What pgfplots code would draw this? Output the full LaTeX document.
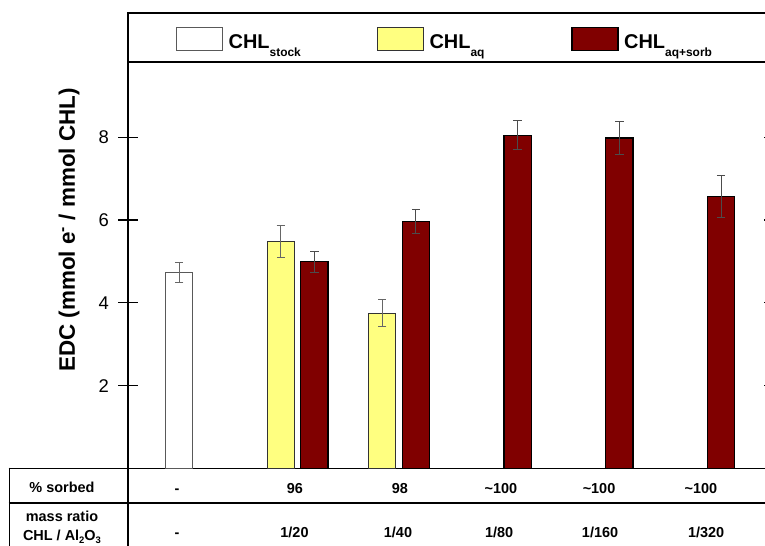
\documentclass[border=0pt]{standalone}
\usepackage{fontspec}
\setmainfont{Liberation Sans}
\usepackage{pgfplots}
\pgfplotsset{compat=1.18}
\definecolor{chlred}{RGB}{128,0,0}
\definecolor{chlyel}{RGB}{255,255,128}
\newcommand\lsub[1]{\raisebox{-7.5bp}{\fontsize{12}{12}\selectfont #1}}
\newcommand\tsub[1]{\raisebox{-3.5bp}{\fontsize{9.5}{9.5}\selectfont #1}}
\begin{document}
\begin{tikzpicture}
\useasboundingbox (0,0) rectangle (765bp,546bp);
\begin{axis}[
  at={(128bp,77.5bp)}, anchor=south west,
  scale only axis, width=645bp, height=455.5bp,
  xmin=0.1677, xmax=6.511, ymin=0, ymax=11,
  ybar, bar width=27.3bp,
  axis line style={line width=1.8bp},
  ytick={2,4,6,8},
  tick align=center,
  major tick length=19bp,
  ytick style={line width=1.2bp, black},
  yticklabel style={font=\fontsize{18.5}{20}\selectfont, xshift=-6bp},
  /pgf/number format/assume math mode=true,
  xtick={0.65,1.81,2.842,3.836,4.80,5.803},
  xticklabels={-,96,98,\textasciitilde 100,\textasciitilde 100,\textasciitilde 100},
  xtick style={draw=none},
  xticklabel style={font=\bfseries\fontsize{14.5}{16}\selectfont, anchor=base, yshift=-15.5bp},
  extra x ticks={0.65,1.805,2.823,3.817,4.81,5.853},
  extra x tick labels={-,1/20,1/40,1/80,1/160,1/320},
  extra x tick style={xtick style={draw=none}, xticklabel style={yshift=-44bp}},
  ylabel={EDC (mmol e\textsuperscript{-} / mmol CHL)},
  every axis y label/.style={at={(rel axis cs:-0.0915,0.5236)}, rotate=90, anchor=center, font=\bfseries\fontsize{22.5}{24}\selectfont},
  legend columns=3,
  legend image code/.code={\draw[#1, line width=1.2bp] (0bp,-2bp) rectangle (46bp,21bp);},
  legend style={at={(axis description cs:0.0744,0.9425)}, anchor=west, draw=none, fill=none,
    inner sep=0pt, outer sep=0pt, column sep=0pt,
    nodes={inner sep=0pt, anchor=base west},
    font=\bfseries\fontsize{20}{22}\selectfont,
    /tikz/every odd column/.append style={column sep=5.5bp},
    /tikz/column 2/.append style={column sep=76bp},
    /tikz/column 4/.append style={column sep=87bp}},
]
\addplot[bar shift=0pt, fill=white, draw=black!65, line width=1.2bp,
  error bars/.cd, y dir=both, y explicit,
  error bar style={black!60, line width=1bp},
  error mark options={rotate=90, black!60, line width=1bp, mark size=4.2bp}]
  coordinates {(0.671,4.73) +- (0,0.25)};
\addlegendentry{CHL\lsub{stock}}
\addplot[bar shift=0pt, fill=chlyel, draw=black!80, line width=1.2bp,
  error bars/.cd, y dir=both, y explicit,
  error bar style={black!60, line width=1bp},
  error mark options={rotate=90, black!60, line width=1bp, mark size=4.2bp}]
  coordinates {(1.670,5.49) +- (0,0.39) (2.668,3.75) +- (0,0.32)};
\addlegendentry{CHL\lsub{aq}}
\addplot[bar shift=0pt, fill=chlred, draw=black, line width=1.2bp,
  error bars/.cd, y dir=both, y explicit,
  error bar style={black!70, line width=1bp},
  error mark options={rotate=90, black!70, line width=1bp, mark size=4.2bp}]
  coordinates {(2,4.99) +- (0,0.245) (3,5.97) +- (0,0.295) (4,8.05) +- (0,0.35) (5,7.98) +- (0,0.40) (6,6.56) +- (0,0.51)};
\addlegendentry{CHL\lsub{aq+sorb}}
\end{axis}
\draw[line width=1.8bp] (128bp,484bp) -- (780bp,484bp);
\draw[line width=1.8bp] (8.5bp,77.5bp) -- (128bp,77.5bp);
\draw[line width=1.8bp] (8.5bp,43bp) -- (780bp,43bp);
\draw[line width=1.8bp] (9.4bp,78.4bp) -- (9.4bp,-2bp);
\draw[line width=1.8bp] (128bp,77.5bp) -- (128bp,-2bp);
\node[anchor=base, font=\bfseries\fontsize{14.5}{16}\selectfont] at (62bp,53.5bp) {\% sorbed};
\node[anchor=base, font=\bfseries\fontsize{14.5}{16}\selectfont] at (62bp,25bp) {mass ratio};
\node[anchor=base, font=\bfseries\fontsize{14.5}{16}\selectfont] at (62bp,6bp) {CHL / Al\tsub{2}O\tsub{3}};
\end{tikzpicture}
\end{document}
